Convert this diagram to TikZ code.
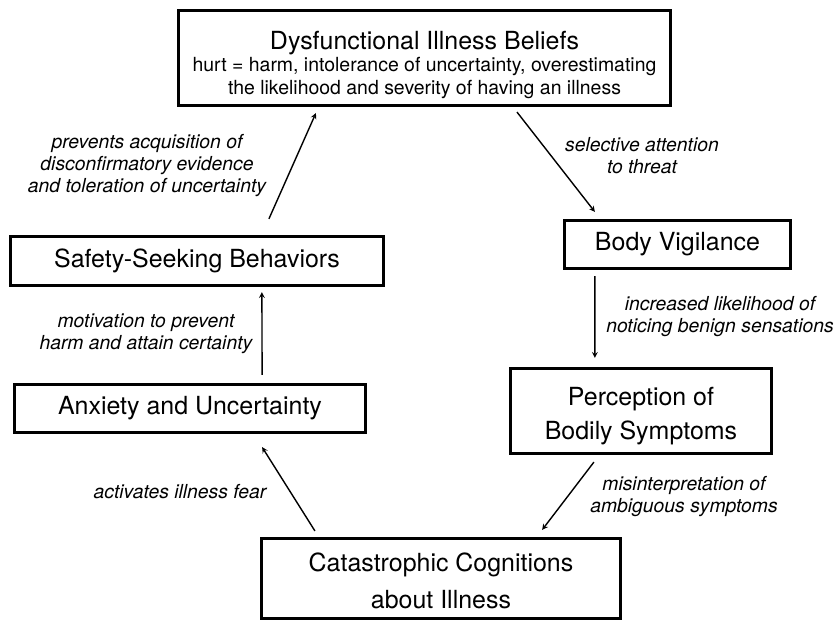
\documentclass[tikz,border=0pt]{standalone}
\usepackage{fontspec}
\setmainfont{TeX Gyre Heros}
\usepackage{tikz}
\usetikzlibrary{arrows,positioning}

\newcommand{\boxfont}{\fontsize{21.3}{29}\selectfont}
\newcommand{\subfont}{\fontsize{16.6}{19.6}\selectfont}
\newcommand{\notefont}{\fontsize{16.5}{18.8}\selectfont\itshape}

\tikzset{
  box/.style={draw, line width=3pt, align=center, inner sep=0pt, font=\boxfont},
  link/.style={-stealth, line width=1.2pt},
  note/.style={align=center, font=\notefont},
}

\begin{document}
\begin{tikzpicture}[x=0.03cm, y=-0.03cm]
\useasboundingbox (0,0) rectangle (837,623);
% boxes
\node[box, font=\subfont, minimum width=14.75cm, minimum height=2.84cm] (beliefs) at (424.5,58)
  {{\boxfont\rule{0pt}{27pt}Dysfunctional Illness Beliefs}\\[-0.5pt]
   hurt = harm, intolerance of uncertainty, overestimating\\
   the likelihood and severity of having an illness};
\node[box, minimum width=6.77cm, minimum height=1.43cm] (vigil) at (677.5,244.5) {Body Vigilance};
\node[box, minimum width=7.82cm, minimum height=2.54cm] (percept) at (641,411) {\rule{0pt}{24pt}Perception of\\Bodily Symptoms};
\node[box, minimum width=10.76cm, minimum height=2.39cm] (catastr) at (441,578.5) {\rule{0pt}{20pt}Catastrophic Cognitions\\[3pt]about Illness};
\node[box, minimum width=10.52cm, minimum height=1.43cm] (anxiety) at (190,408.5) {Anxiety and Uncertainty};
\node[box, minimum width=11.18cm, minimum height=1.46cm] (safety) at (197,261) {Safety-Seeking Behaviors};

% connectors
\draw[link] ([shift={(260,-16)}]safety.north west) -- ([shift={(139,6)}]beliefs.south west);
\draw[link] ([shift={(92.5,5)}]beliefs.south) -- ([shift={(32,-7)}]vigil.north west);
\draw[link] ([shift={(32,6)}]vigil.south west) -- ([shift={(86,-9)}]percept.north west);
\draw[link] ([shift={(85,7)}]percept.south west) -- ([shift={(-80,-7)}]catastr.north east);
\draw[link] ([shift={(55,-6)}]catastr.north west) -- ([shift={(-105,13)}]anxiety.south east);
\draw[link] ([shift={(-105,-8)}]anxiety.north east) -- ([shift={(253,5)}]safety.south west);

% labels
\node[note] (prevents) at (147,166) {prevents acquisition of\\disconfirmatory evidence\\and toleration of uncertainty};
\node[note] (selective) at (642,156) {selective attention\\to threat};
\node[note] (increased) at (720,317) {increased likelihood of\\noticing benign sensations};
\node[note] (motivation) at (146,334) {motivation to prevent\\harm and attain certainty};
\node[note] (activates) at (180,492) {activates illness fear};
\node[note] (misinterp) at (684,497) {misinterpretation of\\ambiguous symptoms};
\end{tikzpicture}
\end{document}
